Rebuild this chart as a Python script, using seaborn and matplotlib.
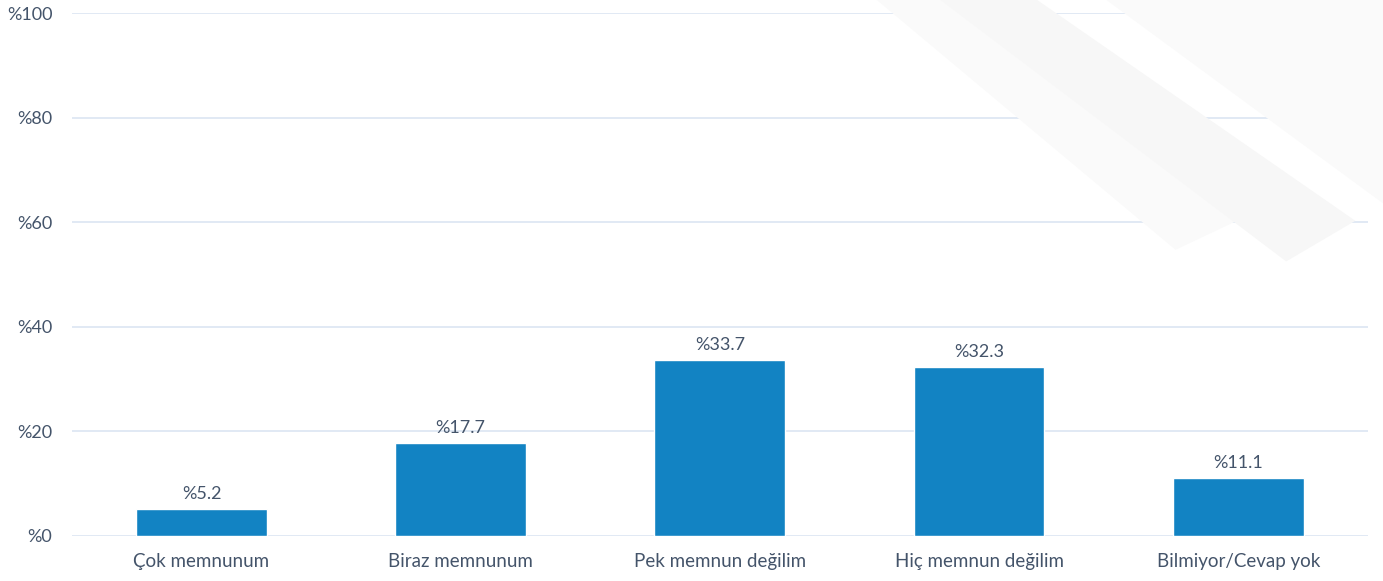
import matplotlib
matplotlib.use("Agg")
import matplotlib.pyplot as plt
from matplotlib.patches import Polygon
import seaborn as sns
import pandas as pd

# Survey answers and shares (%)
categories = ["Çok memnunum", "Biraz memnunum", "Pek memnun değilim",
              "Hiç memnun değilim", "Bilmiyor/Cevap yok"]
values = [5.2, 17.7, 33.7, 32.3, 11.1]
y_ticks = [0, 20, 40, 60, 80, 100]

bar_color = "#1283C3"
text_color = "#44546A"
grid_color = "#DCE5F2"

df = pd.DataFrame({"cat": categories, "val": values})

sns.set_theme(style="white")
plt.rcParams["font.family"] = ["Lato", "DejaVu Sans"]

fig = plt.figure(figsize=(13.83, 5.81), dpi=100)

# very faint diagonal bands in the top-right corner (background decoration)
for pts, col in [
    ([(0.634, 1.0), (0.85, 0.57), (0.93, 0.66), (0.72, 1.0)], "#FAFAFA"),
    ([(0.68, 1.0), (0.93, 0.55), (0.98, 0.62), (0.75, 1.0)], "#F7F7F7"),
    ([(0.80, 1.0), (1.0, 0.65), (1.0, 1.0)], "#FAFAFA"),
]:
    fig.patches.append(Polygon(pts, closed=True, transform=fig.transFigure,
                               facecolor=col, edgecolor="none", zorder=0))

ax = fig.add_axes([0.052, 0.0775, 0.937, 0.900])
ax.patch.set_alpha(0)

sns.barplot(data=df, x="cat", y="val", color=bar_color, width=0.505,
            saturation=1, ax=ax, zorder=3)

for cont in ax.containers:
    ax.bar_label(cont, labels=[f"%{v:.1f}" for v in values], padding=5,
                 fontsize=13, color=text_color)

ax.set_ylim(0, 100)
ax.set_xlim(-0.5, len(categories) - 0.5)
ax.set_yticks(y_ticks)
ax.set_yticklabels([f"%{t}" for t in y_ticks])
ax.yaxis.grid(True, color=grid_color, linewidth=1.2, zorder=0)
ax.set_axisbelow(True)
ax.tick_params(axis="y", length=0, labelsize=13, labelcolor=text_color, pad=14)
ax.tick_params(axis="x", length=0, labelsize=13.5, labelcolor=text_color, pad=12)
ax.set_xlabel("")
ax.set_ylabel("")
for s in ax.spines.values():
    s.set_visible(False)

fig.savefig("out.png", dpi=100)
